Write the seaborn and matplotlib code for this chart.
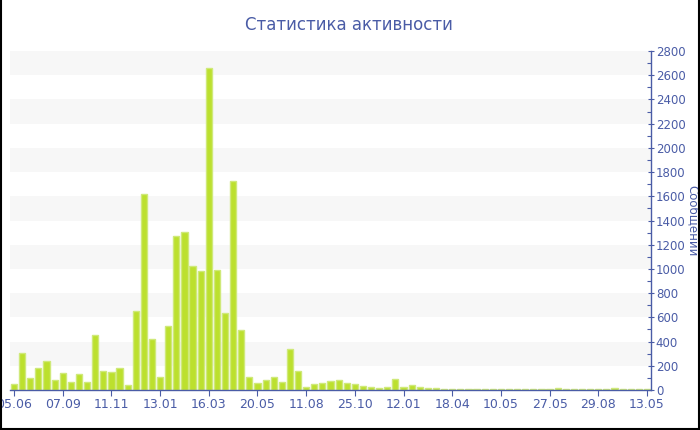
import pandas as pd
import matplotlib
matplotlib.use("Agg")
import matplotlib.pyplot as plt
import seaborn as sns
from matplotlib.lines import Line2D

# Data (messages per period)
counts = [50, 306, 102, 184, 240, 83, 138, 63, 129, 63,
          451, 154, 146, 184, 41, 652, 1619, 424, 107, 529,
          1275, 1308, 1027, 980, 2660, 994, 636, 1729, 493, 110,
          61, 83, 105, 69, 336, 160, 22, 47, 55, 77,
          80, 55, 50, 33, 28, 19, 22, 88, 25, 41,
          25, 16, 16, 11, 11, 11, 9, 9, 9, 9,
          9, 9, 9, 10, 10, 9, 10, 16, 11, 10,
          10, 9, 10, 10, 14, 12, 11, 10, 9]
tick_labels = ["05.06", "07.09", "11.11", "13.01", "16.03", "20.05", "11.08",
               "25.10", "12.01", "18.04", "10.05", "27.05", "29.08", "13.05"]
title = "Статистика активности"
ylabel = "Сообщений"

df = pd.DataFrame({"idx": range(len(counts)), "count": counts})

sns.set_style("white")
plt.rcParams["font.family"] = ["DejaVu Sans"]

blue = "#4a5ca6"
bar_color = "#bce02e"

fig = plt.figure(figsize=(7, 4.3), dpi=100)
ax = fig.add_axes([10 / 700, 40 / 430, 641 / 700, 339 / 430])

# alternating bands
for lo in range(200, 2800, 400):
    ax.axhspan(lo, lo + 200, color="#f7f7f7", zorder=0, lw=0)

sns.barplot(data=df, x="idx", y="count", color=bar_color, saturation=1,
            width=0.76, edgecolor="#cfe97a", linewidth=1.0, ax=ax, zorder=2)

ax.set_xlim(-0.5, len(counts) - 0.5)
ax.set_ylim(0, 2800)
ax.set_xticks(range(0, len(counts), 6))
ax.set_xticklabels(tick_labels)
ax.set_yticks(range(0, 2801, 200))
ax.set_yticks(range(100, 2800, 200), minor=True)

ax.yaxis.tick_right()
ax.yaxis.set_label_position("right")
ax.set_xlabel("")
ax.set_ylabel(ylabel, color=blue, fontsize=8.5, rotation=270, va="center")
ax.yaxis.set_label_coords(1 + 42 / 641, 0.5)

for side in ["top", "left"]:
    ax.spines[side].set_visible(False)
for side in ["right", "bottom"]:
    ax.spines[side].set_color(blue)
    ax.spines[side].set_linewidth(1)

ax.tick_params(axis="x", colors=blue, labelsize=9, length=4, width=0.8,
               direction="out", pad=2, bottom=True)
ax.tick_params(axis="y", which="major", colors=blue, labelsize=8.5, length=5,
               width=0.8, direction="inout", pad=1, right=True, left=False)
ax.tick_params(axis="y", which="minor", colors=blue, length=3, width=0.8,
               direction="in", right=True, left=False)
ax.grid(False)

fig.text(0.499, 1 - 25 / 430, title, ha="center", va="center",
         color=blue, fontsize=12)

# frame around the chart (left, bottom, right)
for xs, ys in [([0.001, 0.001], [0, 1]), ([0, 1], [0.002, 0.002]), ([0.998, 0.998], [0, 1])]:
    fig.add_artist(Line2D(xs, ys, transform=fig.transFigure, color="black", lw=1.5))

fig.savefig("out.png", dpi=100)
